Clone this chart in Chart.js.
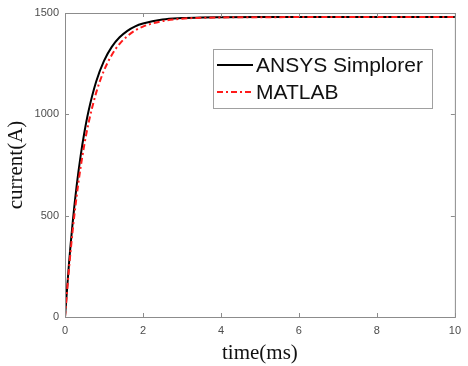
<!DOCTYPE html>
<html>
<head>
<meta charset="utf-8">
<script src="https://cdn.jsdelivr.net/npm/chart.js@4.4.1/dist/chart.umd.min.js"></script>
<style>
  html, body { margin: 0; padding: 0; background: #fff; }
  #wrap { width: 468px; height: 366px; }
</style>
</head>
<body>
<div id="wrap"><canvas id="chart" width="468" height="366"></canvas></div>
<script>
// time samples (ms)
const timeMs = [0, 0.1, 0.2, 0.3, 0.4, 0.5, 0.6, 0.8, 1.0, 1.2, 1.4, 1.6, 1.8, 2.0, 2.5, 3.0, 3.5, 4.0, 5.0, 6.0, 7.0, 8.0, 9.0, 10.0];
// current (A)
const ansysCurrent = [0, 259, 472, 649, 794, 914, 1013, 1162, 1264, 1333, 1380, 1412, 1434, 1448, 1468, 1475, 1478, 1479, 1480, 1480, 1480, 1480, 1480, 1480];
const matlabCurrent = [0, 234, 432, 598, 738, 855, 954, 1107, 1216, 1293, 1348, 1386, 1414, 1433, 1460, 1472, 1476, 1478, 1479, 1480, 1480, 1480, 1480, 1480];
const xTicks = [0, 2, 4, 6, 8, 10];
const yTicks = [0, 500, 1000, 1500];

const axisColor = '#8c8c8c';
const tickText = '#4d4d4d';

const toPoints = (ys) => timeMs.map((t, i) => ({ x: t, y: ys[i] }));

// box, mirrored inward ticks and the legend, MATLAB style
const framePlugin = {
    id: 'frame',
    afterDatasetsDraw(chart) {
        const { ctx, chartArea: a, scales } = chart;
        ctx.save();
        ctx.strokeStyle = axisColor;
        ctx.lineWidth = 1;
        ctx.strokeRect(a.left + 0.5, a.top + 0.5, a.right - a.left, a.bottom - a.top);
        const len = 4;
        ctx.beginPath();
        xTicks.forEach(v => {
            const x = Math.round(scales.x.getPixelForValue(v)) + 0.5;
            ctx.moveTo(x, a.bottom); ctx.lineTo(x, a.bottom - len);
            ctx.moveTo(x, a.top); ctx.lineTo(x, a.top + len);
        });
        yTicks.forEach(v => {
            const y = Math.round(scales.y.getPixelForValue(v)) + 0.5;
            ctx.moveTo(a.left, y); ctx.lineTo(a.left + len, y);
            ctx.moveTo(a.right, y); ctx.lineTo(a.right - len, y);
        });
        ctx.stroke();

        // legend box
        const bx = 213.5, by = 49.5, bw = 219, bh = 59;
        ctx.fillStyle = '#fff';
        ctx.fillRect(bx, by, bw, bh);
        ctx.strokeStyle = '#a0a0a0';
        ctx.strokeRect(bx, by, bw, bh);
        const rows = [65, 92];
        chart.data.datasets.forEach((ds, i) => {
            const y = rows[i];
            ctx.beginPath();
            ctx.strokeStyle = ds.borderColor;
            ctx.lineWidth = 2;
            ctx.setLineDash(ds.borderDash || []);
            ctx.moveTo(217, y); ctx.lineTo(253, y);
            ctx.stroke();
            ctx.setLineDash([]);
            ctx.fillStyle = '#111';
            ctx.font = '21px "Liberation Sans", Arial, sans-serif';
            ctx.textBaseline = 'middle';
            ctx.textAlign = 'left';
            ctx.fillText(ds.label, 256, y + 1);
        });
        ctx.restore();
    }
};

new Chart(document.getElementById('chart'), {
    type: 'line',
    data: {
        datasets: [{
            label: 'ANSYS Simplorer',
            data: toPoints(ansysCurrent),
            borderColor: '#000000',
            borderWidth: 2,
            pointRadius: 0,
            cubicInterpolationMode: 'monotone',
            order: 1,
        }, {
            label: 'MATLAB',
            data: toPoints(matlabCurrent),
            borderColor: '#ff1a1a',
            borderWidth: 2,
            borderDash: [6, 3, 2, 3],
            pointRadius: 0,
            cubicInterpolationMode: 'monotone',
            order: 0,
        }]
    },
    options: {
        responsive: false,
        animation: false,
        devicePixelRatio: 1,
        layout: { padding: { left: 4, top: 13, right: 9, bottom: 0 } },
        plugins: {
            legend: { display: false },
            tooltip: { enabled: false },
        },
        scales: {
            x: {
                type: 'linear',
                min: 0,
                max: 10,
                afterBuildTicks: (s) => { s.ticks = xTicks.map(v => ({ value: v })); },
                afterFit: (s) => { s.height = 49; },
                grid: { display: false, drawTicks: false },
                border: { display: false },
                ticks: { color: tickText, font: { size: 11, family: 'Arial, "Liberation Sans", sans-serif' }, padding: 7, maxRotation: 0 },
                title: {
                    display: true,
                    text: 'time(ms)',
                    color: '#111',
                    font: { size: 21, family: '"Liberation Serif", "Times New Roman", serif' },
                    padding: { top: 2, bottom: 0 },
                }
            },
            y: {
                type: 'linear',
                min: 0,
                max: 1500,
                afterBuildTicks: (s) => { s.ticks = yTicks.map(v => ({ value: v })); },
                afterFit: (s) => { s.width = 61; },
                grid: { display: false, drawTicks: false },
                border: { display: false },
                ticks: {
                    color: tickText,
                    font: { size: 11, family: 'Arial, "Liberation Sans", sans-serif' },
                    padding: 6,
                    callback: (v) => String(v),
                },
                title: {
                    display: true,
                    text: 'current(A)',
                    color: '#111',
                    font: { size: 21, family: '"Liberation Serif", "Times New Roman", serif' },
                    padding: { top: 0, bottom: 0 },
                }
            }
        }
    },
    plugins: [framePlugin]
});
</script>
</body>
</html>
